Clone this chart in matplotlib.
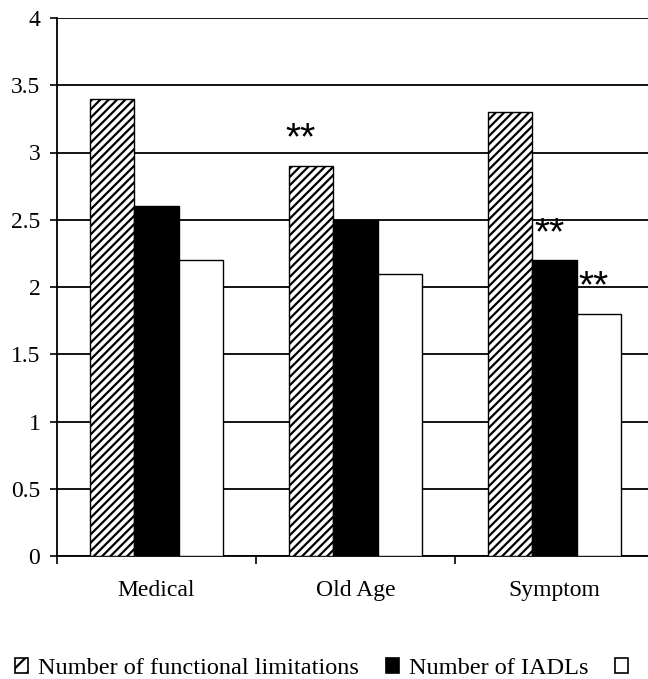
import numpy as np
import matplotlib
matplotlib.use('Agg')
import matplotlib.pyplot as plt
from matplotlib.patches import Patch

plt.rcParams['font.family'] = ['Liberation Serif', 'DejaVu Serif']
plt.rcParams['hatch.linewidth'] = 1.6

# data
groups = ['Medical', 'Old Age', 'Symptom']
func_limits = [3.4, 2.9, 3.3]
iadls = [2.6, 2.5, 2.2]
third = [2.2, 2.1, 1.8]
series_names = ['Number of functional limitations', 'Number of IADLs', '']
# (series index, group index) with ** marks
stars = [(0, 1), (1, 2), (2, 2)]

fig = plt.figure(figsize=(6.48, 6.79), dpi=100)
ax = fig.add_axes([57/648, 1 - 556/679, 597/648, 538/679])

x = np.arange(len(groups))
w = 0.222
series = [func_limits, iadls, third]
styles = [dict(color='white', hatch='////'),
          dict(color='black'),
          dict(color='white')]
for i, (vals, st) in enumerate(zip(series, styles)):
    ax.bar(x + (i - 1) * w, vals, w, edgecolor='black', linewidth=1.0,
           zorder=3, **st)

# significance marks
for si, gi in stars:
    dx = -0.055 if si == 0 else -0.025
    ax.text(gi + (si - 1) * w + dx, series[si][gi] + 0.12, '**',
            ha='center', va='baseline', fontsize=28,
            family='Liberation Sans', zorder=4)

ax.set_ylim(0, 4)
ax.set_xlim(-0.5, 2.5)
ax.set_yticks(np.arange(0, 4.01, 0.5))
ax.set_yticklabels(['0', '0.5', '1', '1.5', '2', '2.5', '3', '3.5', '4'])
ax.yaxis.grid(True, color='black', linewidth=1.3, zorder=0)
ax.set_axisbelow(True)

# category boundary ticks, labels in the middle
ax.set_xticks([-0.5, 0.5, 1.5, 2.5])
ax.set_xticklabels([])
ax.set_xticks(x, minor=True)
ax.set_xticklabels(groups, minor=True)
ax.tick_params(axis='x', which='major', direction='out', length=6, width=1.2)
ax.tick_params(axis='x', which='minor', length=0, pad=17, labelsize=17)
ax.tick_params(axis='y', direction='out', length=5, width=1.2, pad=7, labelsize=17)

for s in ['top', 'right']:
    ax.spines[s].set_visible(False)
ax.spines['left'].set_linewidth(1.3)
ax.spines['bottom'].set_linewidth(1.3)

handles = [Patch(facecolor=st['color'], edgecolor='black',
                 hatch='//' if st.get('hatch') else None, linewidth=1.2)
           for st in styles]
fig.legend(handles, series_names, loc='lower left', bbox_to_anchor=(15/648, 0.0),
           ncol=3, frameon=False, fontsize=17.5, handlelength=0.55, handleheight=0.55,
           handletextpad=0.4, columnspacing=1.1, borderpad=0, borderaxespad=0)

fig.savefig('out.png', dpi=100)
